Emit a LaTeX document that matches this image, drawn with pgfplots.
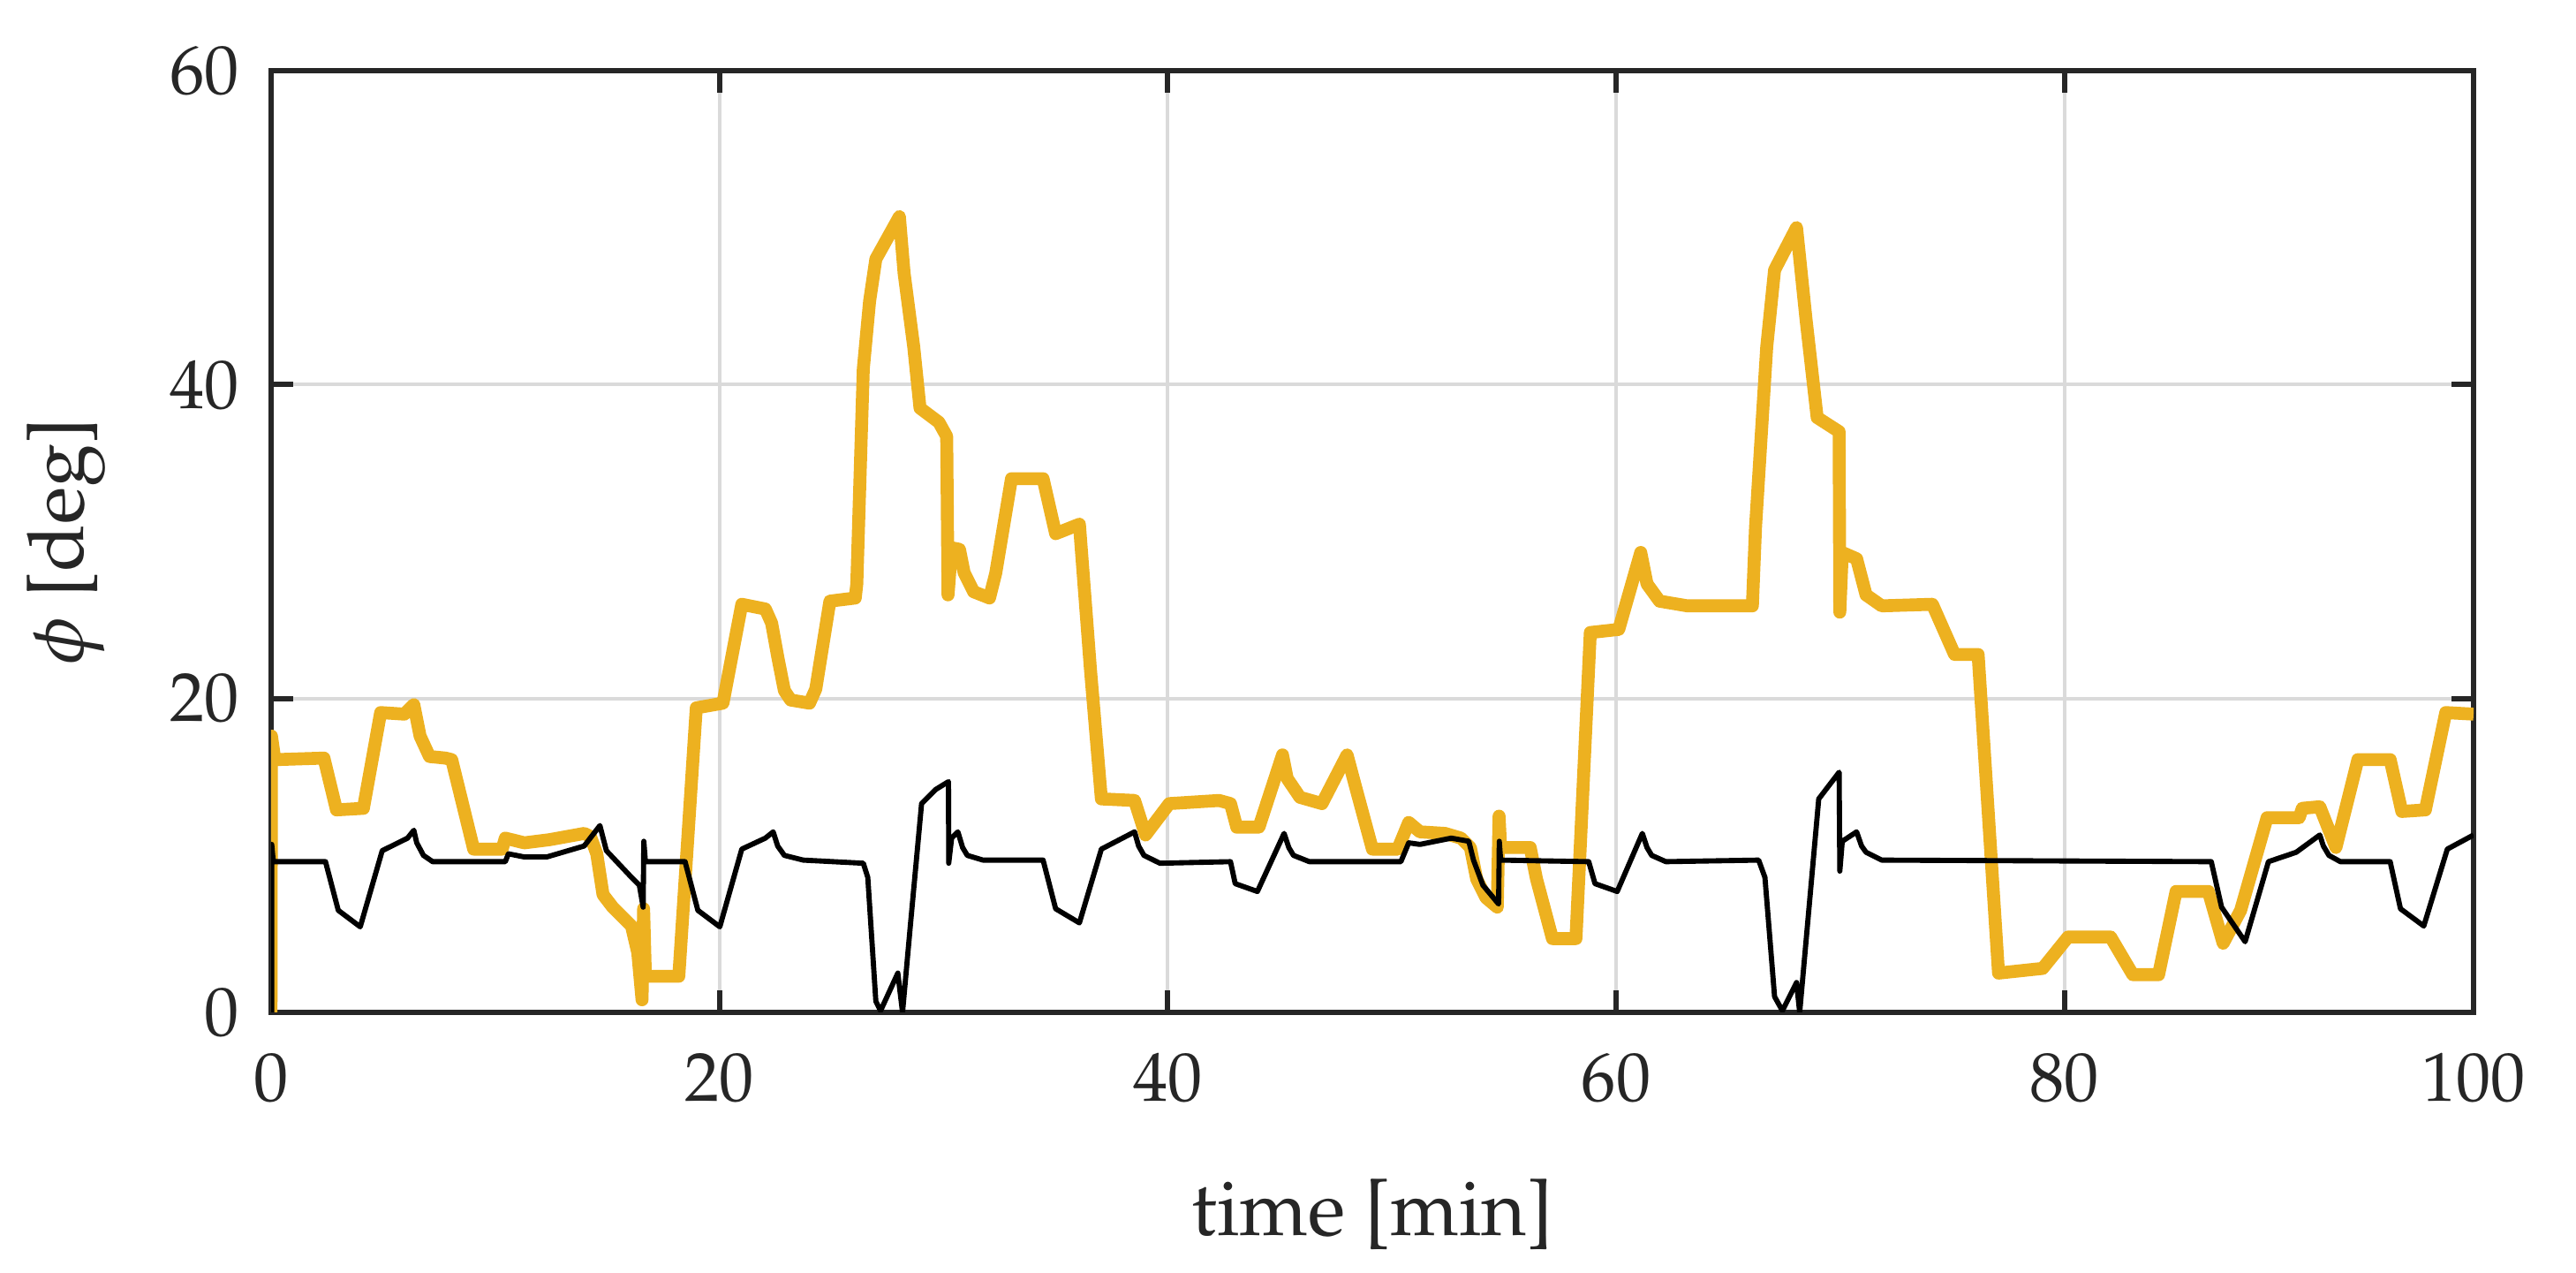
\documentclass[border=0pt]{standalone}
\usepackage[T1]{fontenc}
\usepackage{mathpazo}
\usepackage{pgfplots}
\pgfplotsset{compat=1.18}
\definecolor{myyellow}{HTML}{EDB120}
\definecolor{axcol}{HTML}{262626}
\definecolor{gridcol}{HTML}{DADADA}
\begin{document}
\begin{tikzpicture}
\begin{axis}[
 width=11.97cm, height=5.116cm, scale only axis,
 xmin=0, xmax=98.25, ymin=0, ymax=60,
 xtick={0,20,40,60,80,98.25}, xticklabels={0,20,40,60,80,100},
 ytick={0,20,40,60},
 grid=major, major grid style={gridcol, line width=0.55pt},
 tick align=inside, major tick length=0.12cm,
 axis line style={axcol, line width=0.8pt},
 tick style={axcol, line width=0.8pt},
 tick label style={font=\fontsize{10.7}{12}\selectfont, text=axcol},
 xticklabel style={yshift=-0.1cm},
 yticklabel style={xshift=-0.05cm},
 label style={font=\fontsize{12}{14}\selectfont, text=axcol},
 xlabel={time [min]}, ylabel={$\phi$ [deg]},
 xlabel style={at={([yshift=-1.1cm]axis description cs:0.5,0)}, anchor=center},
 ylabel style={at={([xshift=-1.114cm]axis description cs:0,0.5)}, anchor=center},
]
\coordinate (sw) at (rel axis cs:0,0);
\coordinate (ne) at (rel axis cs:1,1);
\addplot[myyellow, line width=2.0pt, line join=round] coordinates {
(0,0) (0.02,17.6) (0.17,16.1) (2.36,16.2) (2.92,12.9) (4.12,13.0) (4.89,19.1) (5.95,19.0) (6.37,19.6) (6.65,17.6) (7.07,16.3) (7.78,16.2) (8.06,16.1) (9.04,10.4) (10.31,10.4) (10.45,11.1) (11.3,10.8) (12.42,11.0) (13.97,11.4) (14.25,11.2) (14.53,10.1) (14.81,7.5) (15.24,6.7) (16.08,5.5) (16.36,3.8) (16.55,0.8) (16.62,6.6) (16.7,2.3) (18.19,2.3) (18.97,19.4) (20.16,19.7) (21.0,26.0) (22.05,25.7) (22.33,24.8) (22.61,22.6) (22.9,20.5) (23.18,19.9) (24.02,19.7) (24.3,20.6) (24.93,26.2) (26.06,26.4) (26.13,27.3) (26.42,41.0) (26.7,45.3) (26.98,48.0) (28.03,50.7) (28.24,47.1) (28.67,42.4) (28.95,38.5) (29.79,37.6) (30.14,36.7) (30.2,26.6) (30.36,29.6) (30.71,29.5) (30.92,28.0) (31.34,26.8) (32.05,26.4) (32.33,28.0) (33.03,34.0) (34.44,34.0) (35.0,30.5) (36.06,31.1) (36.55,21.9) (37.04,13.6) (38.52,13.5) (39.01,11.3) (40.07,13.3) (42.29,13.5) (42.8,13.3) (43.08,11.8) (44.07,11.8) (45.12,16.4) (45.33,14.9) (45.9,13.7) (46.88,13.3) (48.0,16.4) (48.43,14.1) (49.13,10.4) (50.26,10.4) (50.75,12.1) (51.25,11.5) (52.37,11.4) (53.08,11.1) (53.5,10.5) (53.78,8.5) (54.2,7.3) (54.7,6.7) (54.78,12.5) (54.85,10.5) (56.17,10.5) (56.45,8.5) (57.16,4.7) (58.21,4.7) (58.85,24.2) (60.12,24.4) (61.1,29.3) (61.38,27.3) (61.94,26.2) (63.18,25.9) (66.08,25.9) (66.22,30.9) (66.72,42.4) (67.07,47.3) (68.05,50.0) (68.47,44.2) (68.97,37.9) (69.95,37.0) (69.98,25.5) (70.09,29.3) (70.73,28.9) (71.15,26.6) (71.85,25.9) (74.11,26.0) (75.1,22.8) (76.15,22.8) (77.06,2.5) (79.03,2.8) (80.16,4.8) (82.06,4.8) (83.05,2.4) (84.2,2.4) (84.98,7.7) (86.42,7.7) (87.08,4.4) (87.86,6.5) (89.04,12.4) (90.47,12.4) (90.61,13.0) (91.39,13.1) (92.11,10.5) (93.09,16.1) (94.53,16.1) (95.05,12.8) (96.1,12.9) (97.01,19.1) (98.25,19.0)
};
\addplot[black, line width=0.8pt, line join=round] coordinates {
(0.03,0) (0.03,10.7) (0.1,9.6) (2.43,9.6) (3.0,6.5) (3.98,5.45) (4.96,10.3) (6.09,11.1) (6.37,11.6) (6.5,10.8) (6.8,10.0) (7.21,9.6) (10.45,9.6) (10.59,10.1) (11.3,9.9) (12.3,9.9) (13.97,10.6) (14.67,11.9) (14.96,10.3) (16.08,8.6) (16.43,8.1) (16.6,6.7) (16.63,10.9) (16.7,9.6) (18.47,9.6) (19.04,6.5) (20.02,5.45) (21.0,10.4) (22.05,11.1) (22.4,11.5) (22.6,10.6) (22.9,10.0) (23.74,9.7) (26.42,9.5) (26.62,8.6) (26.98,0.7) (27.19,0.1) (27.96,2.5) (28.17,0) (28.53,5.7) (29.02,13.3) (29.65,14.2) (30.22,14.7) (30.23,9.5) (30.36,11.1) (30.64,11.5) (30.85,10.5) (31.06,10.0) (31.76,9.7) (34.44,9.7) (35.0,6.6) (36.06,5.7) (37.04,10.4) (38.52,11.5) (38.7,10.6) (38.94,10.0) (39.65,9.5) (42.8,9.6) (43.01,8.2) (44.0,7.7) (45.19,11.4) (45.4,10.5) (45.61,10.0) (46.32,9.6) (50.4,9.6) (50.75,10.8) (51.25,10.7) (52.65,11.1) (53.43,10.9) (53.64,9.7) (54.06,8.1) (54.76,6.9) (54.79,10.9) (54.85,9.7) (58.78,9.6) (59.06,8.2) (60.05,7.7) (61.17,11.4) (61.38,10.5) (61.59,10.0) (62.22,9.6) (66.36,9.7) (66.64,8.6) (67.07,1.0) (67.42,0.1) (68.05,1.9) (68.19,0) (69.04,13.6) (69.95,15.3) (69.98,9.0) (70.09,10.9) (70.73,11.5) (70.95,10.6) (71.15,10.2) (71.85,9.7) (86.55,9.6) (87.01,6.7) (88.06,4.5) (89.1,9.6) (90.34,10.2) (91.39,11.3) (91.55,10.6) (91.8,10.0) (92.31,9.6) (94.53,9.6) (94.99,6.6) (96.03,5.5) (97.08,10.4) (98.25,11.3)
};
\end{axis}
\pgfresetboundingbox
\path[use as bounding box] ([shift={(-1.473cm,-1.416cm)}]sw) rectangle ([shift={(0.557cm,0.384cm)}]ne);
\end{tikzpicture}
\end{document}
